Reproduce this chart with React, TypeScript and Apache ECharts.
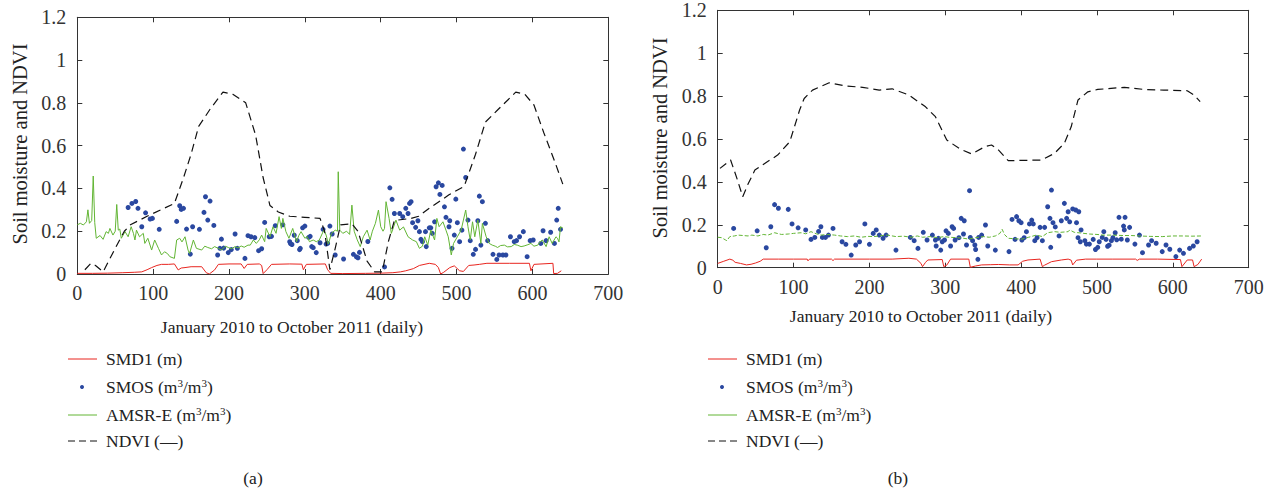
import React, { useEffect, useRef } from "react";
import * as echarts from "echarts";

// ---------- Data (day index, value) ----------
const smd1A: number[][] = [[0,0.003],[20,0.003],[40,0.004],[60,0.006],[75,0.008],[85,0.01],[92,0.02],[98,0.03],[105,0.04],[111,0.045],[120,0.045],[128,0.047],[133,0.019],[137,0.028],[142,0.03],[150,0.034],[164,0.034],[170,0.006],[174,0.0],[181,0.019],[186,0.045],[200,0.047],[216,0.047],[220,0.026],[224,0.045],[240,0.047],[243,0.04],[245,0.002],[250,0.02],[256,0.045],[280,0.047],[296,0.046],[298,0.02],[302,0.045],[327,0.047],[330,0.02],[334,0.003],[350,0.002],[380,0.003],[400,0.004],[416,0.006],[426,0.01],[433,0.015],[443,0.025],[451,0.04],[464,0.05],[472,0.045],[476,0.03],[479,0.0],[483,0.008],[491,0.03],[497,0.038],[504,0.015],[509,0.012],[516,0.04],[523,0.042],[530,0.045],[540,0.05],[570,0.05],[596,0.05],[598,0.015],[602,0.045],[627,0.05],[628,0.002],[633,0.003],[638,0.015]];

const smosA: number[][] = [[67,0.311],[72,0.33],[77,0.339],[80,0.307],[85,0.221],[90,0.286],[96,0.257],[99,0.26],[108,0.209],[131,0.246],[135,0.319],[137,0.302],[140,0.307],[144,0.21],[149,0.093],[152,0.221],[161,0.209],[167,0.288],[169,0.361],[172,0.252],[175,0.341],[180,0.227],[185,0.089],[188,0.12],[190,0.163],[193,0.121],[199,0.1],[203,0.114],[208,0.187],[211,0.12],[221,0.073],[225,0.179],[229,0.174],[234,0.17],[239,0.109],[243,0.118],[247,0.241],[253,0.174],[256,0.176],[261,0.226],[271,0.23],[280,0.151],[281,0.142],[283,0.138],[286,0.181],[290,0.156],[293,0.114],[294,0.12],[297,0.216],[300,0.224],[305,0.171],[307,0.176],[309,0.128],[311,0.123],[315,0.1],[320,0.146],[324,0.209],[328,0.14],[330,0.143],[333,0.224],[336,0.187],[340,0.089],[351,0.07],[364,0.092],[368,0.08],[370,0.076],[372,0.101],[383,0.152],[405,0.033],[412,0.403],[415,0.349],[418,0.283],[425,0.283],[429,0.268],[433,0.307],[436,0.283],[438,0.33],[440,0.338],[442,0.24],[446,0.218],[449,0.249],[451,0.198],[453,0.162],[455,0.151],[459,0.198],[460,0.128],[464,0.216],[466,0.216],[468,0.19],[471,0.244],[473,0.408],[476,0.426],[478,0.372],[481,0.414],[484,0.314],[486,0.265],[490,0.221],[491,0.249],[494,0.12],[497,0.182],[499,0.35],[501,0.24],[504,0.151],[507,0.205],[509,0.584],[512,0.451],[515,0.252],[518,0.156],[522,0.092],[525,0.115],[528,0.249],[530,0.364],[532,0.135],[534,0.338],[538,0.237],[541,0.156],[548,0.092],[553,0.068],[556,0.089],[561,0.089],[565,0.089],[571,0.174],[576,0.151],[579,0.156],[583,0.174],[588,0.198],[593,0.081],[597,0.156],[601,0.159],[611,0.143],[614,0.202],[618,0.156],[624,0.195],[629,0.143],[632,0.252],[634,0.307],[637,0.209]];

const amsrA: number[][] = [[0,0.23],[4,0.237],[8,0.229],[12,0.244],[14,0.3],[16,0.237],[19,0.25],[21,0.458],[23,0.24],[25,0.167],[30,0.18],[34,0.162],[38,0.198],[41,0.19],[43,0.213],[47,0.182],[50,0.2],[52,0.325],[54,0.205],[56,0.21],[58,0.167],[63,0.198],[67,0.174],[71,0.221],[74,0.19],[76,0.159],[78,0.205],[82,0.174],[87,0.19],[89,0.143],[93,0.167],[98,0.112],[102,0.159],[107,0.12],[111,0.089],[115,0.104],[119,0.095],[122,0.081],[128,0.073],[131,0.159],[135,0.167],[138,0.15],[142,0.174],[146,0.112],[148,0.096],[153,0.159],[157,0.12],[164,0.112],[168,0.13],[172,0.124],[177,0.118],[181,0.128],[186,0.12],[190,0.112],[195,0.13],[199,0.124],[203,0.118],[208,0.128],[212,0.122],[216,0.131],[220,0.125],[225,0.135],[228,0.135],[232,0.159],[236,0.143],[240,0.16],[243,0.182],[247,0.151],[249,0.213],[254,0.174],[258,0.221],[262,0.19],[266,0.268],[269,0.213],[271,0.26],[275,0.198],[279,0.167],[284,0.213],[289,0.151],[292,0.18],[295,0.198],[300,0.167],[303,0.175],[306,0.151],[311,0.159],[315,0.151],[319,0.159],[325,0.205],[328,0.182],[331,0.14],[335,0.19],[340,0.205],[343,0.2],[344,0.478],[346,0.205],[350,0.19],[355,0.2],[359,0.185],[362,0.322],[365,0.2],[369,0.16],[373,0.128],[377,0.174],[382,0.205],[386,0.159],[389,0.2],[393,0.237],[397,0.299],[400,0.221],[403,0.2],[405,0.213],[407,0.338],[411,0.26],[414,0.19],[417,0.22],[420,0.252],[425,0.205],[430,0.22],[436,0.174],[442,0.159],[447,0.151],[451,0.12],[455,0.13],[458,0.174],[462,0.135],[466,0.205],[471,0.159],[474,0.26],[477,0.221],[482,0.244],[486,0.205],[489,0.174],[493,0.089],[496,0.143],[501,0.174],[506,0.205],[509,0.252],[512,0.299],[515,0.221],[518,0.159],[521,0.244],[524,0.174],[528,0.252],[532,0.143],[534,0.237],[539,0.174],[543,0.143],[547,0.135],[551,0.13],[554,0.124],[558,0.133],[563,0.135],[567,0.127],[572,0.128],[576,0.138],[580,0.135],[585,0.128],[589,0.131],[594,0.137],[598,0.143],[602,0.13],[607,0.135],[610,0.15],[613,0.159],[618,0.128],[622,0.174],[626,0.143],[631,0.174],[633,0.167],[635,0.15],[637,0.221],[640,0.215]];

const ndviA: number[][] = [[10,0.02],[18,0.05],[24,0.04],[34,0.01],[50,0.12],[62,0.2],[70,0.23],[92,0.27],[110,0.3],[128,0.33],[140,0.45],[150,0.56],[160,0.69],[175,0.77],[192,0.85],[205,0.84],[222,0.8],[235,0.65],[245,0.45],[254,0.32],[265,0.29],[280,0.27],[300,0.265],[320,0.26],[326,0.2],[333,0.02],[340,0.12],[347,0.23],[362,0.235],[370,0.2],[382,0.06],[392,0.01],[402,0.01],[410,0.15],[418,0.25],[440,0.26],[450,0.27],[465,0.31],[490,0.37],[510,0.41],[525,0.56],[538,0.71],[555,0.77],[578,0.85],[590,0.84],[602,0.79],[615,0.66],[630,0.52],[640,0.42]];

const smd1B: number[][] = [[0,0.02],[8,0.03],[16,0.04],[20,0.035],[23,0.025],[30,0.02],[38,0.013],[44,0.016],[50,0.022],[56,0.03],[60,0.04],[80,0.04],[100,0.04],[118,0.04],[119,0.032],[121,0.04],[150,0.04],[152,0.033],[154,0.04],[200,0.04],[230,0.04],[252,0.044],[262,0.04],[268,0.02],[270,0.005],[274,0.025],[277,0.036],[296,0.038],[298,0.005],[302,0.012],[307,0.04],[331,0.04],[333,0.002],[340,0.008],[348,0.013],[360,0.014],[370,0.015],[385,0.013],[396,0.013],[402,0.03],[409,0.036],[425,0.04],[428,0.005],[431,0.012],[440,0.028],[453,0.036],[462,0.04],[466,0.035],[468,0.013],[473,0.035],[485,0.04],[499,0.04],[520,0.04],[551,0.04],[553,0.034],[556,0.04],[580,0.04],[610,0.038],[612,0.005],[619,0.036],[626,0.036],[628,0.005],[633,0.015],[638,0.04]];

const smosB: number[][] = [[21,0.183],[52,0.172],[64,0.093],[70,0.191],[75,0.294],[80,0.277],[93,0.272],[98,0.204],[106,0.186],[116,0.176],[123,0.132],[128,0.141],[133,0.169],[136,0.191],[138,0.141],[142,0.141],[146,0.152],[152,0.183],[164,0.121],[169,0.109],[176,0.059],[182,0.106],[187,0.121],[194,0.204],[200,0.109],[205,0.16],[209,0.176],[213,0.152],[218,0.137],[222,0.152],[235,0.082],[254,0.141],[259,0.126],[264,0.09],[271,0.165],[276,0.129],[283,0.152],[287,0.129],[288,0.101],[291,0.137],[294,0.082],[296,0.121],[299,0.129],[301,0.172],[304,0.16],[307,0.101],[309,0.191],[311,0.183],[313,0.129],[318,0.14],[321,0.23],[324,0.157],[325,0.219],[328,0.106],[332,0.359],[333,0.141],[336,0.126],[339,0.106],[340,0.085],[343,0.039],[344,0.141],[348,0.152],[353,0.199],[356,0.101],[366,0.082],[384,0.075],[388,0.225],[392,0.132],[394,0.238],[397,0.219],[400,0.21],[401,0.129],[404,0.14],[407,0.168],[411,0.204],[414,0.222],[416,0.204],[418,0.126],[421,0.14],[425,0.188],[428,0.126],[431,0.188],[435,0.284],[438,0.23],[439,0.095],[440,0.362],[442,0.21],[445,0.19],[450,0.148],[453,0.219],[457,0.3],[460,0.23],[462,0.261],[464,0.214],[468,0.274],[472,0.269],[473,0.21],[475,0.14],[476,0.261],[478,0.121],[479,0.176],[484,0.126],[486,0.11],[490,0.11],[495,0.132],[498,0.085],[501,0.095],[503,0.121],[507,0.141],[509,0.168],[512,0.132],[514,0.1],[516,0.105],[519,0.126],[521,0.14],[524,0.163],[526,0.13],[529,0.235],[532,0.133],[535,0.194],[536,0.176],[537,0.235],[540,0.129],[543,0.188],[550,0.11],[556,0.152],[560,0.07],[568,0.106],[572,0.126],[578,0.114],[586,0.075],[591,0.106],[596,0.086],[604,0.052],[609,0.082],[614,0.067],[622,0.09],[627,0.101],[632,0.121]];

const amsrB: number[][] = [[0,0.142],[5,0.14],[10,0.13],[12,0.126],[16,0.145],[22,0.148],[27,0.152],[40,0.148],[45,0.152],[53,0.148],[60,0.155],[66,0.152],[75,0.163],[84,0.155],[93,0.157],[100,0.16],[110,0.163],[116,0.158],[123,0.168],[130,0.158],[136,0.152],[145,0.155],[154,0.152],[162,0.148],[171,0.145],[180,0.148],[189,0.142],[198,0.146],[206,0.145],[215,0.149],[224,0.152],[235,0.145],[245,0.147],[255,0.142],[263,0.148],[270,0.142],[280,0.145],[290,0.14],[298,0.145],[305,0.142],[315,0.14],[323,0.138],[331,0.133],[340,0.14],[350,0.145],[358,0.142],[366,0.148],[372,0.16],[375,0.179],[378,0.155],[383,0.137],[392,0.135],[401,0.133],[410,0.142],[420,0.152],[428,0.145],[435,0.163],[444,0.168],[452,0.165],[462,0.168],[464,0.176],[470,0.165],[478,0.162],[490,0.157],[500,0.155],[508,0.152],[520,0.152],[535,0.15],[545,0.15],[556,0.148],[570,0.146],[586,0.145],[600,0.148],[613,0.148],[625,0.147],[638,0.148]];

const ndviB: number[][] = [[3,0.463],[17,0.502],[25,0.42],[33,0.331],[40,0.39],[49,0.455],[62,0.486],[79,0.525],[95,0.587],[108,0.735],[114,0.789],[125,0.828],[147,0.862],[169,0.847],[191,0.841],[213,0.828],[230,0.834],[252,0.805],[274,0.75],[287,0.704],[302,0.595],[320,0.552],[335,0.53],[352,0.564],[361,0.572],[370,0.549],[383,0.499],[427,0.502],[444,0.533],[457,0.58],[466,0.657],[475,0.782],[488,0.82],[501,0.831],[536,0.841],[562,0.831],[588,0.828],[619,0.825],[628,0.805],[636,0.774]];

const legendNames = ["SMD1 (m)", "SMOS", "AMSR-E", "NDVI (—)"];
const xTitle = "January 2010 to October 2011 (daily)";
const yTitle = "Soil moisture and NDVI";
const panelLabels = ["(a)", "(b)"];

const FONT = "'Liberation Serif', 'DejaVu Serif', serif";
const RED = "#e8251f";
const BLUE = "#2a48a0";
const GREEN = "#62b534";
const AX = "#333";
const LEG = 17.5;

function xAxisDef(gridIndex: number, position: "bottom" | "top", labels: boolean) {
  return {
    type: "value", gridIndex, position, min: 0, max: 700, interval: 100,
    axisLine: { show: true, onZero: false, lineStyle: { color: AX, width: 1 } },
    axisTick: { show: true, inside: true, length: 5, lineStyle: { color: AX } },
    axisLabel: { show: labels, color: "#333", fontSize: 20, fontFamily: FONT, margin: 9 },
    splitLine: { show: false },
  };
}
function yAxisDef(gridIndex: number, position: "left" | "right", labels: boolean) {
  return {
    type: "value", gridIndex, position, min: 0, max: 1.2, interval: 0.2,
    axisLine: { show: true, onZero: false, lineStyle: { color: AX, width: 1 } },
    axisTick: { show: true, inside: true, length: 5, lineStyle: { color: AX } },
    axisLabel: { show: labels, color: "#333", fontSize: 20, fontFamily: FONT, margin: 11 },
    splitLine: { show: false },
  };
}

function panelSeries(xi: number, smd: number[][], smos: number[][], amsr: number[][], ndvi: number[][], amsrDash: boolean) {
  return [
    { type: "line", xAxisIndex: xi, yAxisIndex: xi, data: smd, showSymbol: false, symbol: "none", lineStyle: { color: RED, width: 1 } },
    { type: "scatter", xAxisIndex: xi, yAxisIndex: xi, data: smos, symbolSize: 5, itemStyle: { color: BLUE, opacity: 1 } },
    { type: "line", xAxisIndex: xi, yAxisIndex: xi, data: amsr, showSymbol: false, symbol: "none", lineStyle: { color: GREEN, width: 1, type: amsrDash ? [4, 2] : "solid" } },
    { type: "line", xAxisIndex: xi, yAxisIndex: xi, data: ndvi, showSymbol: false, symbol: "none", lineStyle: { color: "#111", width: 1.2, type: [8, 5] } },
  ];
}

function legendGraphics(ox: number) {
  const rows = [359, 387, 415, 441];
  const tx = 106 + ox;
  const rich = {
    n: { fontSize: LEG, fontFamily: FONT, fill: "#222" },
    s: { fontSize: 11, fontFamily: FONT, fill: "#222", verticalAlign: "top", padding: [0, 0, 8, 0] },
  };
  return [
    { type: "line", shape: { x1: 68 + ox, y1: rows[0], x2: 97 + ox, y2: rows[0] }, style: { stroke: RED, lineWidth: 1 } },
    { type: "circle", shape: { cx: 82 + ox, cy: rows[1], r: 2 }, style: { fill: BLUE } },
    { type: "line", shape: { x1: 68 + ox, y1: rows[2], x2: 97 + ox, y2: rows[2] }, style: { stroke: GREEN, lineWidth: 1 } },
    { type: "line", shape: { x1: 68 + ox, y1: rows[3], x2: 97 + ox, y2: rows[3] }, style: { stroke: "#111", lineWidth: 1, lineDash: [7, 4] } },
    { type: "text", x: tx, y: rows[0], style: { text: legendNames[0], font: `${LEG}px ${FONT}`, fill: "#222", textVerticalAlign: "middle" } },
    { type: "text", x: tx, y: rows[1], style: { text: `{n|${legendNames[1]} (m}{s|3}{n|/m}{s|3}{n|)}`, rich, textVerticalAlign: "middle" } },
    { type: "text", x: tx, y: rows[2], style: { text: `{n|${legendNames[2]} (m}{s|3}{n|/m}{s|3}{n|)}`, rich, textVerticalAlign: "middle" } },
    { type: "text", x: tx, y: rows[3], style: { text: legendNames[3], font: `${LEG}px ${FONT}`, fill: "#222", textVerticalAlign: "middle" } },
  ];
}

export default function App() {
  const ref = useRef<HTMLDivElement>(null);
  useEffect(() => {
    if (!ref.current) return;
    const chart = echarts.init(ref.current, null, { renderer: "svg" });
    const option: any = {
      animation: false,
      backgroundColor: "#fff",
      textStyle: { fontFamily: FONT },
      grid: [
        { left: 77.3, top: 17.3, width: 531, height: 256.7 },
        { left: 717.7, top: 10.3, width: 531, height: 257.4 },
      ],
      xAxis: [xAxisDef(0, "bottom", true), xAxisDef(1, "bottom", true), xAxisDef(0, "top", false), xAxisDef(1, "top", false)],
      yAxis: [yAxisDef(0, "left", true), yAxisDef(1, "left", true), yAxisDef(0, "right", false), yAxisDef(1, "right", false)],
      series: [
        ...panelSeries(0, smd1A, smosA, amsrA, ndviA, false),
        ...panelSeries(1, smd1B, smosB, amsrB, ndviB, true),
      ],
      graphic: [
        { type: "text", x: 292, y: 327, style: { text: xTitle, font: `17.5px ${FONT}`, fill: "#222", textAlign: "center", textVerticalAlign: "middle" } },
        { type: "text", x: 921, y: 316, style: { text: xTitle, font: `17.5px ${FONT}`, fill: "#222", textAlign: "center", textVerticalAlign: "middle" } },
        { type: "text", x: 20, y: 144, rotation: Math.PI / 2, style: { text: yTitle, font: `20.5px ${FONT}`, fill: "#222", textAlign: "center", textVerticalAlign: "middle" } },
        { type: "text", x: 660, y: 138, rotation: Math.PI / 2, style: { text: yTitle, font: `20.5px ${FONT}`, fill: "#222", textAlign: "center", textVerticalAlign: "middle" } },
        ...legendGraphics(0),
        ...legendGraphics(640),
        { type: "text", x: 253, y: 478, style: { text: panelLabels[0], font: `17.5px ${FONT}`, fill: "#222", textAlign: "center", textVerticalAlign: "middle" } },
        { type: "text", x: 898, y: 478, style: { text: panelLabels[1], font: `17.5px ${FONT}`, fill: "#222", textAlign: "center", textVerticalAlign: "middle" } },
      ],
    };
    chart.setOption(option);
    return () => chart.dispose();
  }, []);
  return <div ref={ref} style={{ position: "absolute", left: 0, top: 0, width: 1273, height: 492 }} />;
}
